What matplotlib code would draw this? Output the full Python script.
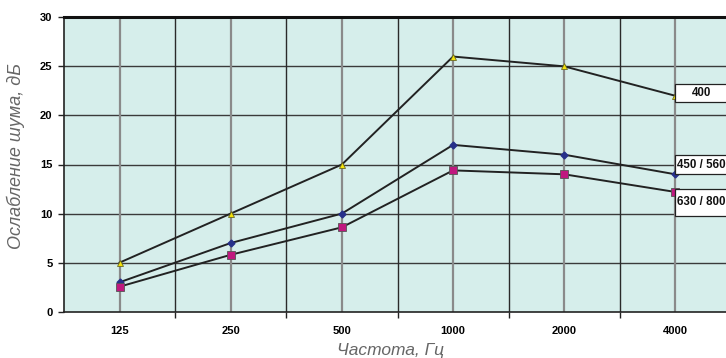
import matplotlib
matplotlib.use("Agg")
import matplotlib.pyplot as plt
from matplotlib.patches import Rectangle

categories = ["125", "250", "500", "1000", "2000", "4000"]
s400 = [5, 10, 15, 26, 25, 22]
s450 = [3, 7, 10, 17, 16, 14]
s630 = [2.55, 5.8, 8.6, 14.4, 14.0, 12.2]
labels = ["400", "450 / 560", "630 / 800"]
yticks = [0, 5, 10, 15, 20, 25, 30]

plt.rcParams['font.family'] = ['Liberation Sans', 'DejaVu Sans']

fig = plt.figure(figsize=(7.26, 3.58), dpi=100)
ax = fig.add_axes([64/726, 46.3/358, 667/726, 294.4/358])
ax.set_facecolor("#D6EEEB")

xpos = [2*i + 1 for i in range(len(categories))]
ax.set_xlim(0, 2*len(categories))
ax.set_ylim(0, 30)

# grid
for y in yticks[1:-1]:
    ax.axhline(y, color="#3a3a3a", lw=1.0, zorder=1)
for i in range(1, 2*len(categories)+1):
    if i % 2 == 1:
        ax.axvline(i, color="#8a8a8a", lw=1.6, zorder=1)
    else:
        ax.axvline(i, color="#2a2a2a", lw=1.0, zorder=1)

ax.plot(xpos, s400, color="#222222", lw=1.4, marker="^", ms=5,
        mfc="#F5E20A", mec="#6b6b20", mew=0.6, zorder=3)
ax.plot(xpos, s450, color="#222222", lw=1.4, marker="D", ms=3.5,
        mfc="#27308a", mec="#27308a", zorder=3)
ax.plot(xpos, s630, color="#222222", lw=1.4, marker="s", ms=5.5,
        mfc="#C0187F", mec="#555555", mew=0.6, zorder=3)

# data-label boxes, placed relative to the last point of each series
xl = xpos[-1]
boxes = [
    (labels[0], s400[-1] - 0.65, s400[-1] + 1.25),
    (labels[1], s450[-1] + 0.05, s450[-1] + 1.95),
    (labels[2], s630[-1] - 2.4, s630[-1] + 0.3),
]
for text, y0, y1 in boxes:
    ax.add_patch(Rectangle((xl, y0), 1.3, y1 - y0, fc="white", ec="#222222",
                           lw=0.9, zorder=5, clip_on=False))
    ax.text(xl + 0.47, (y0 + y1) / 2, text, ha="center", va="center",
            fontsize=8.3, fontweight="bold", color="#111111", zorder=6, clip_on=False)

ax.set_yticks(yticks)
ax.set_yticklabels([str(v) for v in yticks], fontsize=8, fontweight="bold")
ax.set_xticks(xpos)
ax.set_xticklabels(categories, fontsize=8, fontweight="bold")
ax.set_xticks([i for i in range(2, 2*len(categories), 2)], minor=True)
ax.tick_params(axis="x", which="major", length=0, pad=10)
ax.tick_params(axis="x", which="minor", length=4, width=1.0, color="#222222", direction="out")
ax.tick_params(axis="y", length=4.3, width=1.0, color="#222222", pad=4)

for side in ["left", "bottom"]:
    ax.spines[side].set_color("#222222")
    ax.spines[side].set_linewidth(1.2)
ax.spines["top"].set_color("#111111")
ax.spines["top"].set_linewidth(2.2)
ax.spines["right"].set_visible(False)

ax.set_xlabel("Частота, Гц", fontsize=12.5, style="italic", color="#666666", labelpad=4)
ax.set_ylabel("Ослабление шума, дБ", fontsize=13, style="italic", color="#666666", labelpad=12)
ax.yaxis.set_label_coords(-0.058, 0.53)
ax.xaxis.set_label_coords(0.49, -0.105)

fig.savefig("out.png", dpi=100)
